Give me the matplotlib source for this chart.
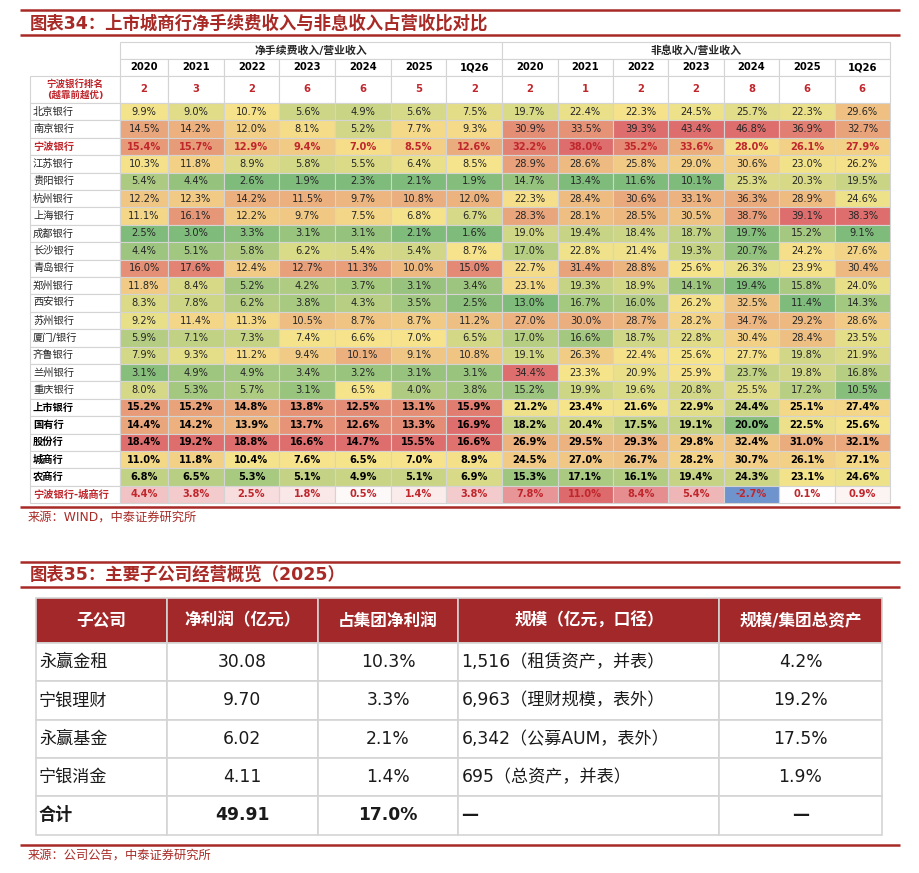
import numpy as np
import matplotlib.pyplot as plt
from matplotlib.patches import Rectangle
from matplotlib.colors import LinearSegmentedColormap

plt.rcParams['font.family'] = ['DejaVu Sans', 'Noto Sans CJK SC']

#..::Dados - grafico 34::..#
years = ['2020', '2021', '2022', '2023', '2024', '2025', '1Q26']
banks = ['北京银行', '南京银行', '宁波银行', '江苏银行', '贵阳银行', '杭州银行', '上海银行', '成都银行',
         '长沙银行', '青岛银行', '郑州银行', '西安银行', '苏州银行', '厦门/银行', '齐鲁银行', '兰州银行', '重庆银行']
groups = ['上市银行', '国有行', '股份行', '城商行', '农商行']
diff_label = '宁波银行-城商行'
rank_fee = [2, 3, 2, 6, 6, 5, 2]
rank_nii = [2, 1, 2, 2, 8, 6, 6]

fee_bank = [
    [9.9, 9.0, 10.7, 5.6, 4.9, 5.6, 7.5],
    [14.5, 14.2, 12.0, 8.1, 5.2, 7.7, 9.3],
    [15.4, 15.7, 12.9, 9.4, 7.0, 8.5, 12.6],
    [10.3, 11.8, 8.9, 5.8, 5.5, 6.4, 8.5],
    [5.4, 4.4, 2.6, 1.9, 2.3, 2.1, 1.9],
    [12.2, 12.3, 14.2, 11.5, 9.7, 10.8, 12.0],
    [11.1, 16.1, 12.2, 9.7, 7.5, 6.8, 6.7],
    [2.5, 3.0, 3.3, 3.1, 3.1, 2.1, 1.6],
    [4.4, 5.1, 5.8, 6.2, 5.4, 5.4, 8.7],
    [16.0, 17.6, 12.4, 12.7, 11.3, 10.0, 15.0],
    [11.8, 8.4, 5.2, 4.2, 3.7, 3.1, 3.4],
    [8.3, 7.8, 6.2, 3.8, 4.3, 3.5, 2.5],
    [9.2, 11.4, 11.3, 10.5, 8.7, 8.7, 11.2],
    [5.9, 7.1, 7.3, 7.4, 6.6, 7.0, 6.5],
    [7.9, 9.3, 11.2, 9.4, 10.1, 9.1, 10.8],
    [3.1, 4.9, 4.9, 3.4, 3.2, 3.1, 3.1],
    [8.0, 5.3, 5.7, 3.1, 6.5, 4.0, 3.8],
]
fee_group = [
    [15.2, 15.2, 14.8, 13.8, 12.5, 13.1, 15.9],
    [14.4, 14.2, 13.9, 13.7, 12.6, 13.3, 16.9],
    [18.4, 19.2, 18.8, 16.6, 14.7, 15.5, 16.6],
    [11.0, 11.8, 10.4, 7.6, 6.5, 7.0, 8.9],
    [6.8, 6.5, 5.3, 5.1, 4.9, 5.1, 6.9],
]
fee_diff = [4.4, 3.8, 2.5, 1.8, 0.5, 1.4, 3.8]

nii_bank = [
    [19.7, 22.4, 22.3, 24.5, 25.7, 22.3, 29.6],
    [30.9, 33.5, 39.3, 43.4, 46.8, 36.9, 32.7],
    [32.2, 38.0, 35.2, 33.6, 28.0, 26.1, 27.9],
    [28.9, 28.6, 25.8, 29.0, 30.6, 23.0, 26.2],
    [14.7, 13.4, 11.6, 10.1, 25.3, 20.3, 19.5],
    [22.3, 28.4, 30.6, 33.1, 36.3, 28.9, 24.6],
    [28.3, 28.1, 28.5, 30.5, 38.7, 39.1, 38.3],
    [19.0, 19.4, 18.4, 18.7, 19.7, 15.2, 9.1],
    [17.0, 22.8, 21.4, 19.3, 20.7, 24.2, 27.6],
    [22.7, 31.4, 28.8, 25.6, 26.3, 23.9, 30.4],
    [23.1, 19.3, 18.9, 14.1, 19.4, 15.8, 24.0],
    [13.0, 16.7, 16.0, 26.2, 32.5, 11.4, 14.3],
    [27.0, 30.0, 28.7, 28.2, 34.7, 29.2, 28.6],
    [17.0, 16.6, 18.7, 22.8, 30.4, 28.4, 23.5],
    [19.1, 26.3, 22.4, 25.6, 27.7, 19.8, 21.9],
    [34.4, 23.3, 20.9, 25.9, 23.7, 19.8, 16.8],
    [15.2, 19.9, 19.6, 20.8, 25.5, 17.2, 10.5],
]
nii_group = [
    [21.2, 23.4, 21.6, 22.9, 24.4, 25.1, 27.4],
    [18.2, 20.4, 17.5, 19.1, 20.0, 22.5, 25.6],
    [26.9, 29.5, 29.3, 29.8, 32.4, 31.0, 32.1],
    [24.5, 27.0, 26.7, 28.2, 30.7, 26.1, 27.1],
    [15.3, 17.1, 16.1, 19.4, 24.3, 23.1, 24.6],
]
nii_diff = [7.8, 11.0, 8.4, 5.4, -2.7, 0.1, 0.9]

#..::Dados - grafico 35::..#
sub_headers = ['子公司', '净利润（亿元）', '占集团净利润', '规模（亿元，口径）', '规模/集团总资产']
sub_names = ['永赢金租', '宁银理财', '永赢基金', '宁银消金', '合计']
sub_profit = [30.08, 9.70, 6.02, 4.11, 49.91]
sub_share = [10.3, 3.3, 2.1, 1.4, 17.0]
sub_scale = ['1,516（租赁资产，并表）', '6,963（理财规模，表外）', '6,342（公募AUM，表外）', '695（总资产，并表）', '—']
sub_ratio = ['4.2%', '19.2%', '17.5%', '1.9%', '—']

#..::Estilo::..#
RED = '#a82a26'
TXT_RED = '#c0272d'
EDGE = '#d4d4d4'
heat = LinearSegmentedColormap.from_list('heat', ['#7fbb7b', '#f6e48b', '#de6e6e'])
div = LinearSegmentedColormap.from_list('div', ['#6f93cd', '#ffffff', '#dd6a6c'])


def col_colors(vals):
    vals = np.asarray(vals, dtype=float)
    lo, mid, hi = vals.min(), np.percentile(vals, 50), vals.max()
    t = np.where(vals <= mid, 0.5 * (vals - lo) / (mid - lo), 0.5 + 0.5 * (vals - mid) / (hi - mid))
    return heat(np.clip(t, 0, 1))


fig = plt.figure(figsize=(9.2, 8.73), dpi=100)
ax = fig.add_axes([0, 0, 1, 1])
ax.set_xlim(0, 920)
ax.set_ylim(873, 0)
ax.axis('off')


def cell(x0, y0, w, h, text='', fc='white', color='#262626', weight='normal', size=7, ha='center', ec=EDGE, lw=0.8):
    ax.add_patch(Rectangle((x0, y0), w, h, facecolor=fc, edgecolor=ec, lw=lw))
    if text != '':
        tx = x0 + w / 2 if ha == 'center' else x0 + 3
        ax.text(tx, y0 + h / 2, text, ha=ha, va='center', color=color, fontsize=size, fontweight=weight)


def section_title(y_top, y_bot, title):
    ax.plot([20, 900], [y_top, y_top], color=RED, lw=1.8, solid_capstyle='butt')
    ax.plot([20, 900], [y_bot, y_bot], color=RED, lw=1.8, solid_capstyle='butt')
    ax.text(30, (y_top + y_bot) / 2 + 1, title, ha='left', va='center', color=RED, fontsize=12.5, fontweight='bold')


#..::Grafico 34::..#
section_title(10, 35, '图表34：上市城商行净手续费收入与非息收入占营收比对比')

lab_x, lab_w = 30, 90
widths = [48] + [55.7] * 6 + [55.4] * 7
edges = np.concatenate([[120], 120 + np.cumsum(widths)])
y_h1, y_h2, y_rank, y_data, rh = 42, 59, 76, 103, 17.4

n = len(years)
cell(edges[0], y_h1, edges[n] - edges[0], y_h2 - y_h1, '净手续费收入/营业收入', weight='bold', size=7.8)
cell(edges[n], y_h1, edges[2 * n] - edges[n], y_h2 - y_h1, '非息收入/营业收入', weight='bold', size=7.8)
for j, yr in enumerate(years + years):
    cell(edges[j], y_h2, widths[j], y_rank - y_h2, yr, color='black', weight='bold', size=7.2)
cell(lab_x, y_rank, lab_w, y_data - y_rank, '宁波银行排名\n(越靠前越优)', color=TXT_RED, weight='bold', size=6.8)
for j, rk in enumerate(rank_fee + rank_nii):
    cell(edges[j], y_rank, widths[j], y_data - y_rank, str(rk), color=TXT_RED, weight='bold', size=7.2)

row_labels = banks + groups
fee_all = np.array(fee_bank + fee_group)
nii_all = np.array(nii_bank + nii_group)
values = np.hstack([fee_all, nii_all])
colors = np.stack([col_colors(values[:, j]) for j in range(2 * n)], axis=1)

for i, lab in enumerate(row_labels):
    y0 = y_data + i * rh
    if lab == '宁波银行':
        tcol, wt = TXT_RED, 'bold'
    elif lab in groups:
        tcol, wt = 'black', 'bold'
    else:
        tcol, wt = '#262626', 'normal'
    cell(lab_x, y0, lab_w, rh, lab, color=tcol, weight=wt, size=7.4, ha='left')
    for j in range(2 * n):
        cell(edges[j], y0, widths[j], rh, f'{values[i, j]:.1f}%', fc=colors[i, j], color=tcol, weight=wt, size=7.1)

diff_all = np.array(fee_diff + nii_diff)
t_diff = np.where(diff_all >= 0, 0.5 + 0.5 * diff_all / diff_all.max(), 0.5 - 0.5 * diff_all / diff_all.min())
y0 = y_data + len(row_labels) * rh
cell(lab_x, y0, lab_w, rh, diff_label, color=TXT_RED, weight='bold', size=7.4, ha='left')
for j in range(2 * n):
    cell(edges[j], y0, widths[j], rh, f'{diff_all[j]:.1f}%', fc=div(t_diff[j]), color=TXT_RED, weight='bold', size=7.1)

ax.plot([20, 900], [507, 507], color=RED, lw=1.8, solid_capstyle='butt')
ax.text(28, 517, '来源：WIND，中泰证券研究所', ha='left', va='center', color=RED, fontsize=8.8)

#..::Grafico 35::..#
section_title(561.5, 586.5, '图表35：主要子公司经营概览（2025）')

sx = [36, 166.7, 317.7, 458.5, 719.3, 881.7]
sy0, sh_head, sh_row = 598, 45, 38.3
for j, hd in enumerate(sub_headers):
    cell(sx[j], sy0, sx[j + 1] - sx[j], sh_head, hd, fc='#a3282a', color='white', weight='bold', size=12, ec=EDGE, lw=1.2)

for i, name in enumerate(sub_names):
    y0 = sy0 + sh_head + i * sh_row
    wt = 'bold' if name == '合计' else 'normal'
    row = [name, f'{sub_profit[i]:.2f}', f'{sub_share[i]:.1f}%', sub_scale[i], sub_ratio[i]]
    for j, txt in enumerate(row):
        ha = 'left' if j in (0, 3) else 'center'
        cell(sx[j], y0, sx[j + 1] - sx[j], sh_row, txt, color='#1a1a1a', weight=wt, size=12.3, ha=ha, lw=1.2)

ax.plot([20, 900], [845, 845], color=RED, lw=1.8, solid_capstyle='butt')
ax.text(28, 855, '来源：公司公告，中泰证券研究所', ha='left', va='center', color=RED, fontsize=8.8)

plt.savefig('out.png', dpi=100)
